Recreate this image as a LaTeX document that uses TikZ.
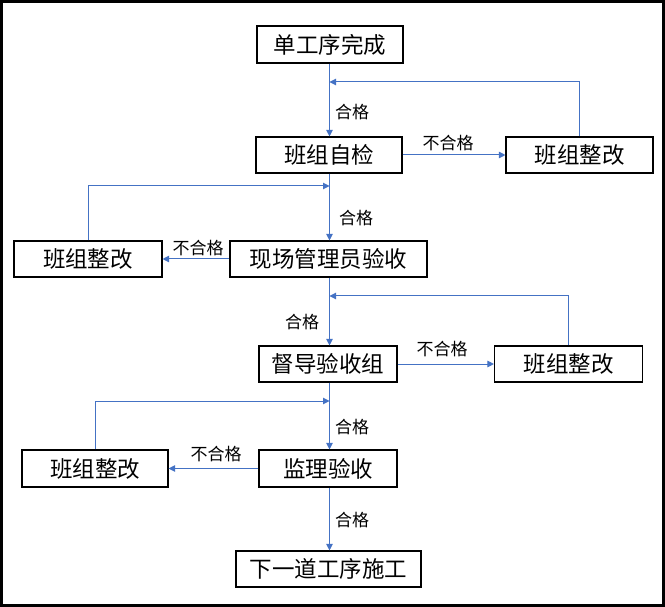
\documentclass[tikz,border=0pt]{standalone}
\usepackage{fontspec}
\setmainfont{Noto Sans CJK SC}
\usetikzlibrary{arrows.meta}
\definecolor{flow}{HTML}{4472C4}
\tikzset{
  box/.style={draw=black,line width=1.1pt,inner sep=0pt,font=\fontsize{22.5}{25}\selectfont},
  lbl/.style={inner sep=0pt,font=\fontsize{17}{19}\selectfont},
  conn/.style={draw=flow,line width=1pt,-{Triangle[length=6.5pt,width=6.5pt]}}
}
\begin{document}
\begin{tikzpicture}[x=1pt,y=-1pt]
\useasboundingbox (0,0) rectangle (665,607);
\draw[line width=2.6pt] (1.3,1.3) rectangle (663.7,605.7);
\coordinate (m) at (329.5,0);
\node[box,minimum width=146,minimum height=37] (A) at (330,44.5) {单工序完成};
\node[box,minimum width=146,minimum height=36] (B) at (329,155) {班组自检};
\node[box,minimum width=147,minimum height=36] (C) at (579.5,155) {班组整改};
\node[box,minimum width=197,minimum height=36] (D) at (328.5,259) {现场管理员验收};
\node[box,minimum width=148,minimum height=36] (E) at (88,259) {班组整改};
\node[box,minimum width=138,minimum height=36] (F) at (328,364) {督导验收组};
\node[box,minimum width=148,minimum height=36] (G) at (568.5,364) {班组整改};
\node[box,minimum width=138,minimum height=37] (H) at (328,468.5) {监理验收};
\node[box,minimum width=146,minimum height=37] (I) at (95,468.5) {班组整改};
\node[box,minimum width=185,minimum height=36] (J) at (328.5,569) {下一道工序施工};
% main flow
\draw[conn] (A.south -| m) -- (B.north -| m);
\draw[conn] (B.south -| m) -- (D.north -| m);
\draw[conn] (D.south -| m) -- (F.north -| m);
\draw[conn] (F.south -| m) -- (H.north -| m);
\draw[conn] (H.south -| m) -- (J.north -| m);
% failures
\draw[conn] (B.east) -- (C.west);
\draw[conn] (D.west) -- (E.east);
\draw[conn] (F.east) -- (G.west);
\draw[conn] (H.west) -- (I.east);
% feedback
\coordinate (f1) at (329.5,82);
\coordinate (f2) at (329.5,186);
\coordinate (f3) at (329.5,296);
\coordinate (f4) at (329.5,401);
\draw[conn] (C.north) |- (f1);
\draw[conn] (E.north) |- (f2);
\draw[conn] (G.north) |- (f3);
\draw[conn] (I.north) |- (f4);
% labels
\node[lbl] (l1) at (352,112) {合格};
\node[lbl] (l2) at (448,143) {不合格};
\node[lbl] (l3) at (356,218) {合格};
\node[lbl] (l4) at (198,248) {不合格};
\node[lbl] (l5) at (302,322) {合格};
\node[lbl] (l6) at (442,349) {不合格};
\node[lbl] (l7) at (352,427) {合格};
\node[lbl] (l8) at (216,454) {不合格};
\node[lbl] (l9) at (352,520) {合格};
\end{tikzpicture}
\end{document}
